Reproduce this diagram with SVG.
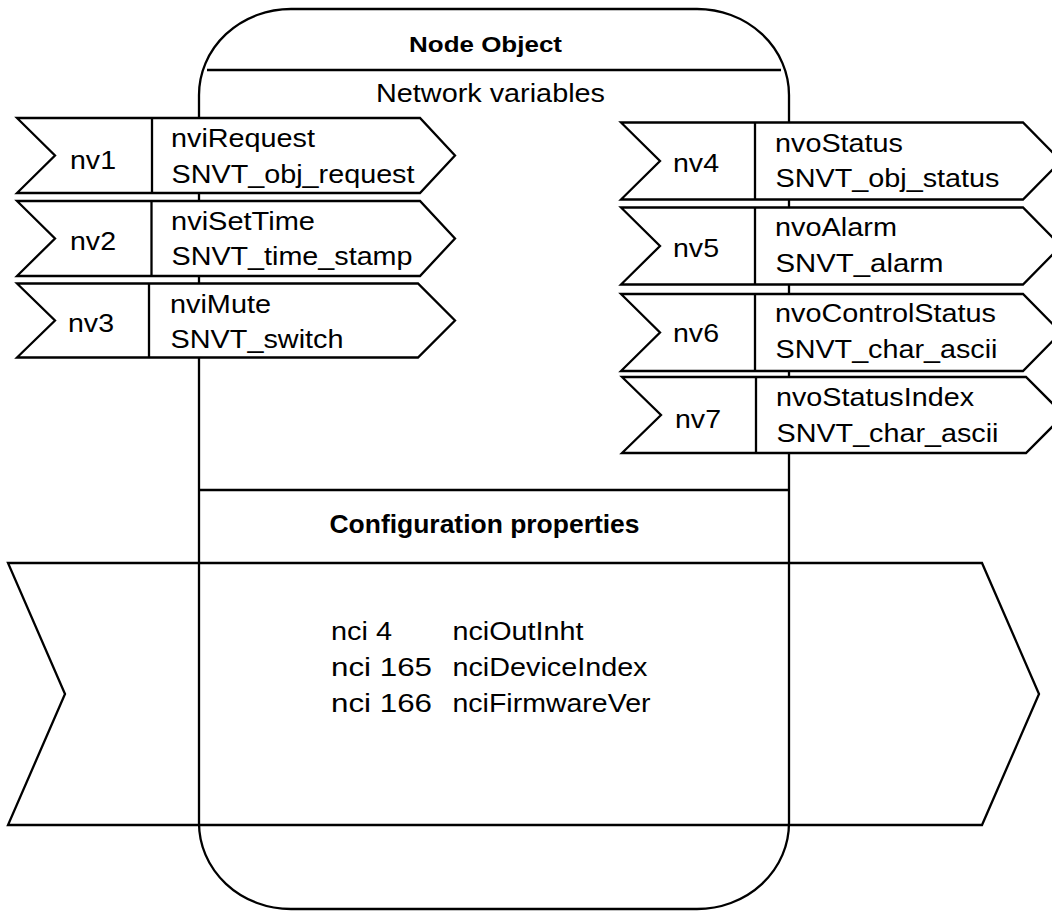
<svg xmlns="http://www.w3.org/2000/svg" width="1052" height="911" viewBox="0 0 1052 911">
<style>
  .ln { stroke:#000; stroke-width:2.3; fill:none; }
  .sh { stroke:#000; stroke-width:2.3; fill:#fff; stroke-linejoin:miter; }
  .t { font-family:"Liberation Sans", Arial, sans-serif; font-size:26px; fill:#000; }
  .b { font-family:"Liberation Sans", Arial, sans-serif; font-weight:bold; fill:#000; }
</style>
<rect x="0" y="0" width="1052" height="911" fill="#fff"/>
<g id="node-object">
  <rect class="sh" x="199" y="9" width="590" height="900" rx="92" ry="86"/>
  <text class="b" x="409" y="52" font-size="22" textLength="153" lengthAdjust="spacingAndGlyphs">Node Object</text>
  <line class="ln" x1="207" y1="70" x2="781" y2="70"/>
  <text class="t" x="376" y="102" textLength="229" lengthAdjust="spacingAndGlyphs">Network variables</text>
  <line class="ln" x1="199" y1="490" x2="789" y2="490"/>
  <text class="b" x="329.5" y="533" font-size="25.5" textLength="310" lengthAdjust="spacingAndGlyphs">Configuration properties</text>
</g>
<g id="config-properties">
  <polygon class="ln" points="8,563 982,563 1039,694 982,825 8,825 65,694"/>
  <text class="t" x="331" y="640" textLength="61" lengthAdjust="spacingAndGlyphs">nci 4</text>
  <text class="t" x="452.5" y="640" textLength="131" lengthAdjust="spacingAndGlyphs">nciOutInht</text>
  <text class="t" x="331" y="676" textLength="101" lengthAdjust="spacingAndGlyphs">nci 165</text>
  <text class="t" x="452.5" y="676" textLength="195" lengthAdjust="spacingAndGlyphs">nciDeviceIndex</text>
  <text class="t" x="331" y="712" textLength="101" lengthAdjust="spacingAndGlyphs">nci 166</text>
  <text class="t" x="452.5" y="712" textLength="198" lengthAdjust="spacingAndGlyphs">nciFirmwareVer</text>
</g>
<g id="nv1">
  <polygon class="sh" points="17,118 420,118 455,155.5 420,193 17,193 55,155.5"/>
  <line class="ln" x1="152" y1="118" x2="152" y2="193"/>
  <text class="t" x="70" y="169" textLength="46" lengthAdjust="spacingAndGlyphs">nv1</text>
  <text class="t" x="171" y="146.5" textLength="144" lengthAdjust="spacingAndGlyphs">nviRequest</text>
  <text class="t" x="171.5" y="182.5" textLength="243" lengthAdjust="spacingAndGlyphs">SNVT_obj_request</text>
</g>
<g id="nv2">
  <polygon class="sh" points="17,201 420,201 455,238.5 420,276 17,276 55,238.5"/>
  <line class="ln" x1="151.5" y1="201" x2="151.5" y2="276"/>
  <text class="t" x="70" y="250" textLength="46" lengthAdjust="spacingAndGlyphs">nv2</text>
  <text class="t" x="171" y="230" textLength="144" lengthAdjust="spacingAndGlyphs">nviSetTime</text>
  <text class="t" x="171.5" y="265" textLength="241" lengthAdjust="spacingAndGlyphs">SNVT_time_stamp</text>
</g>
<g id="nv3">
  <polygon class="sh" points="17,283.5 418,283.5 455,320.5 418,357.5 17,357.5 55,320.5"/>
  <line class="ln" x1="149" y1="283.5" x2="149" y2="357.5"/>
  <text class="t" x="68" y="332" textLength="46" lengthAdjust="spacingAndGlyphs">nv3</text>
  <text class="t" x="170" y="313" textLength="101" lengthAdjust="spacingAndGlyphs">nviMute</text>
  <text class="t" x="170.5" y="348" textLength="173" lengthAdjust="spacingAndGlyphs">SNVT_switch</text>
</g>
<g id="nv4">
  <polygon class="sh" points="621,122.5 1023,122.5 1061,161 1023,199.5 621,199.5 660,161"/>
  <line class="ln" x1="755" y1="122.5" x2="755" y2="199.5"/>
  <text class="t" x="673" y="172" textLength="46" lengthAdjust="spacingAndGlyphs">nv4</text>
  <text class="t" x="775" y="151.5" textLength="128" lengthAdjust="spacingAndGlyphs">nvoStatus</text>
  <text class="t" x="775.5" y="187" textLength="224" lengthAdjust="spacingAndGlyphs">SNVT_obj_status</text>
</g>
<g id="nv5">
  <polygon class="sh" points="621,207.5 1023,207.5 1061,246 1023,284.5 621,284.5 660,246"/>
  <line class="ln" x1="755" y1="207.5" x2="755" y2="284.5"/>
  <text class="t" x="673" y="257" textLength="46" lengthAdjust="spacingAndGlyphs">nv5</text>
  <text class="t" x="775" y="236" textLength="122" lengthAdjust="spacingAndGlyphs">nvoAlarm</text>
  <text class="t" x="775.5" y="271.5" textLength="168" lengthAdjust="spacingAndGlyphs">SNVT_alarm</text>
</g>
<g id="nv6">
  <polygon class="sh" points="621,294 1023,294 1061,332.5 1023,371 621,371 660,332.5"/>
  <line class="ln" x1="755" y1="294" x2="755" y2="371"/>
  <text class="t" x="673" y="342" textLength="46" lengthAdjust="spacingAndGlyphs">nv6</text>
  <text class="t" x="775" y="321.5" textLength="221" lengthAdjust="spacingAndGlyphs">nvoControlStatus</text>
  <text class="t" x="775.5" y="358" textLength="222" lengthAdjust="spacingAndGlyphs">SNVT_char_ascii</text>
</g>
<g id="nv7">
  <polygon class="sh" points="622,377 1026,377 1064,415 1026,453 622,453 661,415"/>
  <line class="ln" x1="756" y1="377" x2="756" y2="453"/>
  <text class="t" x="675" y="428" textLength="46" lengthAdjust="spacingAndGlyphs">nv7</text>
  <text class="t" x="776" y="406" textLength="198" lengthAdjust="spacingAndGlyphs">nvoStatusIndex</text>
  <text class="t" x="776.5" y="441.5" textLength="222" lengthAdjust="spacingAndGlyphs">SNVT_char_ascii</text>
</g>
<g id="connectors"/>
</svg>
